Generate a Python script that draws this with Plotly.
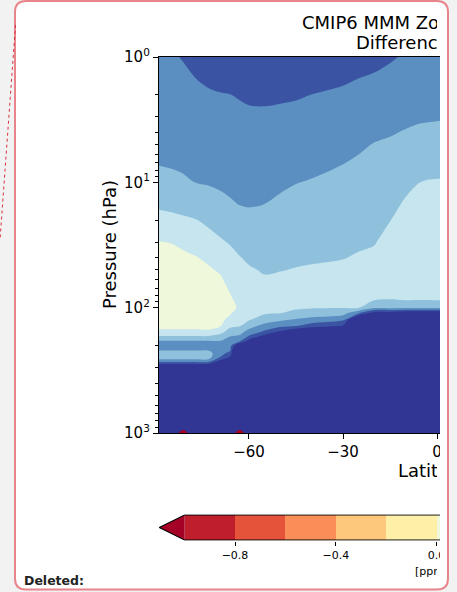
import plotly.graph_objects as go

W, H = 457, 592

# ---- data -------------------------------------------------------------
lats = [-88.75, -85, -81, -77, -73, -69, -66, -63, -60, -55, -50, -45, -40,
        -30, -25, -20, -15, -10, -5, 0, 5]

plev = [1, 1.5, 2, 3, 5, 7, 10, 15, 20, 30, 40, 50, 60, 70, 85, 100, 110,
        125, 140, 155, 170, 185, 200, 215, 230, 245, 260, 280, 300, 400, 600,
        850, 1000]

# zonal-mean ozone difference [ppm], one profile (top -> surface) per latitude
diff_by_lat = [
    [0.76, 0.73, 0.71, 0.68, 0.64, 0.61, 0.54, 0.43, 0.34, 0.195, 0.16, 0.135, 0.11, 0.107, 0.13, 0.15, 0.16,
     0.175, 0.185, 0.21, 0.42, 0.62, 0.70, 0.64, 0.52, 0.52, 0.61, 0.95, 1.5, 2.5, 3, 3, 3],
    [0.78, 0.75, 0.72, 0.69, 0.645, 0.617, 0.558, 0.445, 0.353, 0.203, 0.165, 0.137, 0.112, 0.107, 0.13, 0.15, 0.16,
     0.175, 0.185, 0.21, 0.42, 0.62, 0.70, 0.64, 0.52, 0.52, 0.61, 0.95, 1.5, 2.5, 3, 3, 3],
    [0.81, 0.766, 0.74, 0.703, 0.656, 0.626, 0.579, 0.463, 0.375, 0.237, 0.165, 0.148, 0.124, 0.104, 0.12, 0.14, 0.155,
     0.172, 0.185, 0.21, 0.42, 0.62, 0.70, 0.64, 0.52, 0.52, 0.61, 0.95, 1.5, 2.5, 3, 3, 3],
    [0.90, 0.798, 0.769, 0.727, 0.675, 0.640, 0.603, 0.483, 0.394, 0.270, 0.191, 0.159, 0.132, 0.11, 0.117, 0.14, 0.155,
     0.172, 0.185, 0.21, 0.42, 0.62, 0.70, 0.64, 0.52, 0.52, 0.61, 0.95, 1.5, 2.5, 3, 3, 3],
    [0.92, 0.825, 0.781, 0.739, 0.686, 0.651, 0.613, 0.523, 0.442, 0.320, 0.229, 0.180, 0.152, 0.128, 0.10, 0.125, 0.14,
     0.165, 0.18, 0.21, 0.42, 0.62, 0.70, 0.64, 0.52, 0.52, 0.61, 0.95, 1.5, 2.5, 3, 3, 3],
    [0.95, 0.85, 0.792, 0.750, 0.697, 0.663, 0.626, 0.560, 0.486, 0.378, 0.289, 0.220, 0.182, 0.159, 0.13, 0.137, 0.154,
     0.176, 0.196, 0.325, 0.487, 0.614, 0.663, 0.709, 0.753, 0.793, 0.98, 1.3, 1.6, 2.5, 3, 3, 3],
    [0.97, 0.868, 0.798, 0.757, 0.705, 0.671, 0.635, 0.585, 0.514, 0.414, 0.347, 0.295, 0.253, 0.217, 0.185, 0.178, 0.185,
     0.233, 0.355, 0.488, 0.608, 0.665, 0.718, 0.766, 0.84, 0.976, 1.2, 1.5, 1.8, 2.5, 3, 3, 3],
    [0.98, 0.882, 0.812, 0.764, 0.713, 0.680, 0.644, 0.603, 0.544, 0.455, 0.392, 0.348, 0.312, 0.281, 0.243, 0.211, 0.259,
     0.329, 0.39, 0.5125, 0.64, 0.755, 1.3, 1.8, 2.0, 2.5, 2.5, 3, 3, 3, 3, 3, 3],
    [0.98, 0.890, 0.826, 0.771, 0.720, 0.686, 0.650, 0.609, 0.562, 0.484, 0.428, 0.381, 0.338, 0.301, 0.255, 0.30, 0.338,
     0.385, 0.514, 0.671, 0.827, 1.1, 1.6, 2.0, 2.5, 2.5, 2.5, 3, 3, 3, 3, 3, 3],
    [0.97, 0.888, 0.83, 0.773, 0.718, 0.682, 0.643, 0.599, 0.555, 0.494, 0.45, 0.416, 0.382, 0.348, 0.305, 0.345, 0.376,
     0.493, 0.675, 0.825, 1.1, 1.5, 1.9, 2.2, 2.5, 2.5, 2.5, 3, 3, 3, 3, 3, 3],
    [0.96, 0.879, 0.823, 0.766, 0.706, 0.667, 0.625, 0.574, 0.533, 0.477, 0.437, 0.405, 0.373, 0.343, 0.336, 0.373, 0.395,
     0.566, 0.743, 1.02, 1.4, 1.7, 2.0, 2.2, 2.5, 2.5, 2.5, 3, 3, 3, 3, 3, 3],
    [0.95, 0.871, 0.815, 0.758, 0.693, 0.650, 0.604, 0.552, 0.514, 0.461, 0.424, 0.393, 0.362, 0.336, 0.357, 0.386, 0.426,
     0.623, 0.79, 1.2, 1.5, 1.8, 2.0, 2.2, 2.5, 2.5, 2.5, 3, 3, 3, 3, 3, 3],
    [0.93, 0.854, 0.799, 0.747, 0.681, 0.637, 0.591, 0.540, 0.504, 0.453, 0.417, 0.385, 0.355, 0.33, 0.362, 0.39, 0.463,
     0.68, 0.9, 1.3, 1.6, 1.9, 2.0, 2.2, 2.5, 2.5, 2.5, 3, 3, 3, 3, 3, 3],
    [0.90, 0.819, 0.774, 0.718, 0.648, 0.603, 0.562, 0.516, 0.483, 0.437, 0.405, 0.368, 0.336, 0.331, 0.364, 0.393, 0.516,
     0.76, 1.02, 1.4, 1.7, 2.0, 2.2, 2.5, 2.5, 2.5, 2.5, 3, 3, 3, 3, 3, 3],
    [0.88, 0.797, 0.752, 0.693, 0.621, 0.582, 0.543, 0.499, 0.467, 0.423, 0.386, 0.349, 0.318, 0.334, 0.36, 0.395, 0.75,
     1.5, 2.2, 2.5, 2.5, 2.5, 2.5, 2.5, 2.5, 2.5, 2.5, 3, 3, 3, 3, 3, 3],
    [0.86, 0.774, 0.731, 0.669, 0.594, 0.560, 0.523, 0.481, 0.451, 0.409, 0.367, 0.330, 0.30, 0.337, 0.37, 0.552, 1.1,
     2.0, 2.5, 2.5, 2.5, 2.5, 2.5, 2.5, 2.5, 2.5, 2.5, 3, 3, 3, 3, 3, 3],
    [0.82, 0.748, 0.708, 0.650, 0.58, 0.537, 0.492, 0.441, 0.404, 0.344, 0.30, 0.297, 0.33, 0.356, 0.39, 0.55, 1.1,
     2.0, 2.5, 2.5, 2.5, 2.5, 2.5, 2.5, 2.5, 2.5, 2.5, 3, 3, 3, 3, 3, 3],
    [0.78, 0.726, 0.688, 0.634, 0.556, 0.50, 0.439, 0.38, 0.346, 0.298, 0.27, 0.304, 0.331, 0.355, 0.372, 0.55, 1.2,
     2.0, 2.5, 2.5, 2.5, 2.5, 2.5, 2.5, 2.5, 2.5, 2.5, 3, 3, 3, 3, 3, 3],
    [0.76, 0.709, 0.673, 0.621, 0.532, 0.466, 0.397, 0.353, 0.321, 0.276, 0.281, 0.313, 0.34, 0.362, 0.375, 0.55, 1.2,
     2.0, 2.5, 2.5, 2.5, 2.5, 2.5, 2.5, 2.5, 2.5, 2.5, 3, 3, 3, 3, 3, 3],
    [0.75, 0.70, 0.665, 0.615, 0.52, 0.452, 0.388, 0.34, 0.305, 0.256, 0.283, 0.315, 0.341, 0.363, 0.37, 0.55, 1.2,
     2.0, 2.5, 2.5, 2.5, 2.5, 2.5, 2.5, 2.5, 2.5, 2.5, 3, 3, 3, 3, 3, 3],
    [0.74, 0.69, 0.655, 0.61, 0.515, 0.448, 0.386, 0.338, 0.303, 0.255, 0.283, 0.315, 0.341, 0.363, 0.37, 0.55, 1.2,
     2.0, 2.5, 2.5, 2.5, 2.5, 2.5, 2.5, 2.5, 2.5, 2.5, 3, 3, 3, 3, 3, 3],
]

# two small negative spots right at the surface
spot_lats = [-85, -81, -77, -67, -63, -59]
spot_plev = [850, 1000, 1100]
spot_vals = [
    [3, 3, 3, 3, 3, 3],
    [3, -3, 3, 3, -3, 3],
    [3, 3, 3, 3, 3, 3],
]

# contour levels and their fill colours (below-min, 10 bins, above-max)
level_start, level_end, level_step = -1.0, 1.0, 0.2
level_colors = ["#a50026", "#bf1e2c", "#e6533b", "#fa8e58", "#fec87c", "#fff0a8",
                "#eff8da", "#c6e5ef", "#8fc1dc", "#5b8fc1", "#3a54a3", "#313695"]
bar_edges = [-1.0, -0.8, -0.6, -0.4, -0.2, 0.0, 0.2, 0.4, 0.6, 0.8, 1.0]
bar_ticks = [-0.8, -0.4, 0.0]
bar_ticktext = ["\u22120.8", "\u22120.4", "0.0"]

lat_ticks = [-60, -30, 0]
lat_ticktext = ["\u221260", "\u221230", "0"]
p_ticks = [1, 10, 100, 1000]
p_ticktext = ["10<sup>0</sup>", "10<sup>1</sup>", "10<sup>2</sup>", "10<sup>3</sup>"]

# ---- helpers for pixel placement -------------------------------------
def fx(x):
    return x / W


def fy(y):
    return 1 - y / H


n = len(level_colors) - 1
colorscale = [[k / n, c] for k, c in enumerate(level_colors)]
z = [list(row) for row in zip(*diff_by_lat)]

FONT = "DejaVu Sans"

fig = go.Figure()

fig.add_trace(go.Contour(
    x=lats, y=plev, z=z,
    colorscale=colorscale, autocontour=False,
    contours=dict(start=level_start, end=level_end, size=level_step,
                  coloring="fill", showlines=False),
    line=dict(width=0), showscale=False, hoverinfo="skip",
    xaxis="x", yaxis="y",
))
# spots below the lowest level, in the colour bar's extend colour
# (drawn as the region where the negated field rises above 1)
fig.add_trace(go.Contour(
    x=spot_lats, y=spot_plev, z=[[-v for v in row] for row in spot_vals],
    colorscale=[[0, "rgba(0,0,0,0)"], [1, level_colors[0]]],
    autocontour=False,
    contours=dict(start=-level_start, end=-level_start, size=1.0,
                  coloring="fill", showlines=False),
    line=dict(width=0), showscale=False, hoverinfo="skip",
    xaxis="x", yaxis="y",
))

# horizontal colour bar built on its own axes
fig.add_trace(go.Heatmap(
    x=bar_edges, y=[0, 1], z=[list(range(1, len(bar_edges)))],
    zmin=0, zmax=n, colorscale=colorscale, showscale=False,
    hoverinfo="skip", xaxis="x2", yaxis="y2",
))
tip = -1.1004
fig.add_trace(go.Scatter(
    x=[-1.0, tip, -1.0, -1.0], y=[0, 0.5, 1, 0], mode="lines",
    fill="toself", fillcolor=level_colors[0], line=dict(width=0),
    hoverinfo="skip", showlegend=False, xaxis="x2", yaxis="y2",
))
fig.add_trace(go.Scatter(
    x=[1.0, -1.0, tip, -1.0, 1.0], y=[1, 1, 0.5, 0, 0], mode="lines",
    line=dict(color="black", width=1.2),
    hoverinfo="skip", showlegend=False, xaxis="x2", yaxis="y2",
))

# colour-bar pixel scale
cb_px0, cb_ppu = 184.6, 252.0
cb_lo = -1.11
cb_hi = (440 - cb_px0) / cb_ppu - 1.0
cb_left = cb_px0 + (cb_lo + 1.0) * cb_ppu

axis_font = dict(family=FONT, size=15, color="black")

# rounded frame
L, R, T, B, r = 15.0, 448.0, 1.0, 589.5, 11.0
frame = (f"M {fx(L + r)},{fy(T)} L {fx(R - r)},{fy(T)} Q {fx(R)},{fy(T)} {fx(R)},{fy(T + r)} "
         f"L {fx(R)},{fy(B - r)} Q {fx(R)},{fy(B)} {fx(R - r)},{fy(B)} "
         f"L {fx(L + r)},{fy(B)} Q {fx(L)},{fy(B)} {fx(L)},{fy(B - r)} "
         f"L {fx(L)},{fy(T + r)} Q {fx(L)},{fy(T)} {fx(L + r)},{fy(T)} Z")

fig.update_layout(
    width=W, height=H, autosize=False,
    margin=dict(l=0, r=0, t=0, b=0, pad=0, autoexpand=False),
    paper_bgcolor="#f2f2f2", plot_bgcolor="white",
    showlegend=False,
    font=dict(family=FONT, color="black"),
    xaxis=dict(
        domain=[fx(159), fx(440)], range=[-88.72, 0.957], anchor="y",
        tickmode="array", tickvals=lat_ticks, ticktext=lat_ticktext,
        ticks="outside", ticklen=5, tickwidth=1.2, tickcolor="black",
        showline=True, linecolor="black", linewidth=1.3, mirror=True,
        showgrid=False, zeroline=False, tickfont=axis_font, automargin=False,
    ),
    yaxis=dict(
        type="log", domain=[fy(433), fy(57)], range=[3, 0], anchor="x",
        tickmode="array", tickvals=p_ticks, ticktext=p_ticktext,
        ticks="outside", ticklen=5, tickwidth=1.2, tickcolor="black",
        minor=dict(tickmode="array",
                   tickvals=[m * 10 ** e for e in range(3) for m in range(2, 10)],
                   ticks="outside", ticklen=3, tickwidth=1, tickcolor="black",
                   showgrid=False),
        showline=True, linecolor="black", linewidth=1.3, mirror=False,
        showgrid=False, zeroline=False, tickfont=axis_font, automargin=False,
    ),
    xaxis2=dict(
        domain=[fx(cb_left), fx(440)], range=[cb_lo, cb_hi], anchor="y2",
        tickmode="array", tickvals=bar_ticks, ticktext=bar_ticktext,
        ticks="outside", ticklen=4, tickwidth=1, tickcolor="black",
        showline=False, showgrid=False, zeroline=False, automargin=False,
        tickfont=dict(family=FONT, size=11, color="black"),
    ),
    yaxis2=dict(
        domain=[fy(540.75), fy(514.25)], range=[-0.03, 1.03], anchor="x2",
        showticklabels=False, ticks="", showline=False, showgrid=False,
        zeroline=False, automargin=False,
    ),
    shapes=[
        dict(type="path", path=frame, xref="paper", yref="paper",
             fillcolor="white", line=dict(color="#e8848c", width=2), layer="below"),
        dict(type="line", xref="paper", yref="paper",
             x0=fx(15.5), y0=fy(25), x1=fx(0), y1=fy(240),
             line=dict(color="#d8323c", width=1, dash="dot"), layer="above"),
    ],
)


def clipped(text, x_left, y_mid, right, size, **kw):
    return dict(text=text, x=fx(x_left), y=fy(y_mid), xref="paper", yref="paper",
                xanchor="left", yanchor="middle", align="left",
                width=right - x_left, showarrow=False, borderpad=0, borderwidth=0,
                font=dict(family=FONT, size=size, color="black"), **kw)


def cover(x0, x1, y0, y1):
    return dict(text=" ", x=fx((x0 + x1) / 2), y=fy((y0 + y1) / 2),
                xref="paper", yref="paper", xanchor="center", yanchor="middle",
                width=x1 - x0, height=y1 - y0, bgcolor="white",
                showarrow=False, borderpad=0, borderwidth=0)


fig.update_layout(annotations=[
    clipped("CMIP6 MMM Zonal Mean Ozone", 302, 22, 437, 18),
    clipped("Difference (2014 \u2212 1850)", 356, 42, 437, 18),
    clipped("Latitude", 398, 470, 437, 18),
    clipped("[ppm]", 415, 571, 437, 11),
    dict(text="Pressure (hPa)", x=fx(110), y=fy(245), xref="paper", yref="paper",
         xanchor="center", yanchor="middle", textangle=-90, showarrow=False,
         font=dict(family=FONT, size=18, color="black")),
    dict(text="<b>Deleted:</b>", x=fx(22), y=fy(580), xref="paper", yref="paper",
         xanchor="left", yanchor="middle", showarrow=False,
         font=dict(family=FONT, size=12.5, color="#222222")),
    cover(440, 447, 438, 462),
    cover(440, 447, 545, 563),
])

fig.write_html("out.html")
